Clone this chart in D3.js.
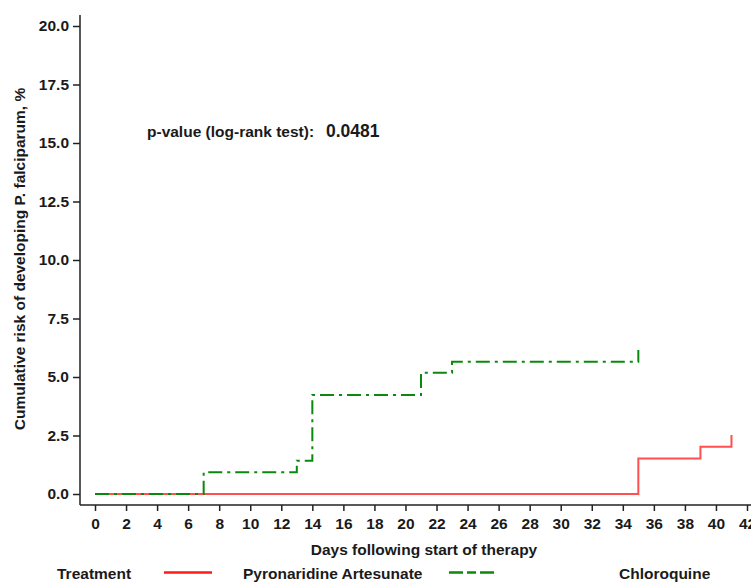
<!DOCTYPE html>
<html>
<head>
<meta charset="utf-8">
<script src="https://cdn.jsdelivr.net/npm/d3@7"></script>
<style>
  body { margin: 0; background: #fff; }
  svg { display: block; font-family: "Liberation Sans", Arial, sans-serif; }
  .tick text { font-weight: bold; font-size: 15.5px; fill: #1a1a1a; }
</style>
</head>
<body>
<svg id="chart" width="751" height="582"></svg>
<script>
// Kaplan-Meier cumulative risk curves (days, % risk)
const pyronaridineDays = [0, 35, 39, 41];
const pyronaridineRisk = [0, 1.52, 2.02, 2.52];
const chloroquineDays = [0, 7, 13, 14, 21, 23, 35];
const chloroquineRisk = [0, 0.93, 1.42, 4.23, 5.18, 5.65, 6.15];
const pyronaridineEnd = 41;
const chloroquineEnd = 35;
const xTicks = d3.range(0, 43, 2);
const yTicks = [0, 2.5, 5, 7.5, 10, 12.5, 15, 17.5, 20];
const seriesNames = ["Pyronaridine Artesunate", "Chloroquine"];
const pValueLabel = "p-value (log-rank test):";
const pValue = "0.0481";

const svg = d3.select("#chart");
const x = d3.scaleLinear().domain([0, 42]).range([95, 747]);
const y = d3.scaleLinear().domain([0, 20]).range([494, 26]);

// axes
const xAxis = svg.append("g").attr("transform", "translate(0,505)")
  .call(d3.axisBottom(x).tickValues(xTicks).tickSize(6).tickPadding(7).tickFormat(d3.format("d")));
xAxis.select(".domain").attr("d", "M80,0H751").attr("stroke", "#222").attr("stroke-width", 1.5);
xAxis.selectAll(".tick line").attr("stroke", "#222").attr("stroke-width", 1.5);

const yAxis = svg.append("g").attr("transform", "translate(80,0)")
  .call(d3.axisLeft(y).tickValues(yTicks).tickSize(7).tickPadding(4).tickFormat(d3.format(".1f")));
yAxis.select(".domain").attr("d", "M0,15V505").attr("stroke", "#222").attr("stroke-width", 1.5);
yAxis.selectAll(".tick line").attr("stroke", "#222").attr("stroke-width", 1.5);

// axis titles
svg.append("text").attr("x", 424).attr("y", 555).attr("text-anchor", "middle")
  .attr("font-weight", "bold").attr("font-size", 15.5).attr("fill", "#1a1a1a")
  .text("Days following start of therapy");
svg.append("text").attr("transform", "translate(25,259) rotate(-90)").attr("text-anchor", "middle")
  .attr("font-weight", "bold").attr("font-size", 15.5).attr("fill", "#1a1a1a")
  .text("Cumulative risk of developing P. falciparum, %");

// step curves
function stepPoints(days, risk, end) {
  const pts = days.map((d, i) => [d, risk[i]]);
  pts.push([end, risk[risk.length - 1]]);
  return pts;
}
const line = d3.line().x(d => x(d[0])).y(d => y(d[1])).curve(d3.curveStepAfter);

svg.append("path")
  .datum(stepPoints(pyronaridineDays, pyronaridineRisk, pyronaridineEnd))
  .attr("d", line).attr("fill", "none")
  .attr("stroke", "#ff3030").attr("stroke-opacity", 0.85).attr("stroke-width", 2);

svg.append("path")
  .datum(stepPoints(chloroquineDays, chloroquineRisk, chloroquineEnd))
  .attr("d", line).attr("fill", "none")
  .attr("stroke", "#0a8a0a").attr("stroke-width", 2)
  .attr("stroke-dasharray", "14,5,3,5");

// annotation
const ann = svg.append("g").attr("font-weight", "bold").attr("font-size", 15.5).attr("fill", "#1a1a1a");
ann.append("text").attr("x", 147).attr("y", 137).text(pValueLabel);
ann.append("text").attr("x", 326).attr("y", 137).attr("font-size", 17.5).text(pValue);

// legend
const lg = svg.append("g").attr("font-size", 15.5).attr("font-weight", "bold").attr("fill", "#1a1a1a");
lg.append("text").attr("x", 57).attr("y", 579).text("Treatment");
lg.append("line").attr("x1", 164).attr("x2", 212).attr("y1", 572.5).attr("y2", 572.5)
  .attr("stroke", "#ff1a1a").attr("stroke-width", 2.5);
lg.append("text").attr("x", 243).attr("y", 579).text(seriesNames[0]);
lg.append("line").attr("x1", 449).attr("x2", 498).attr("y1", 572.5).attr("y2", 572.5)
  .attr("stroke", "#0a8a0a").attr("stroke-width", 2.5).attr("stroke-dasharray", "14,4,9,4");
lg.append("text").attr("x", 619).attr("y", 579).text(seriesNames[1]);
</script>
</body>
</html>
